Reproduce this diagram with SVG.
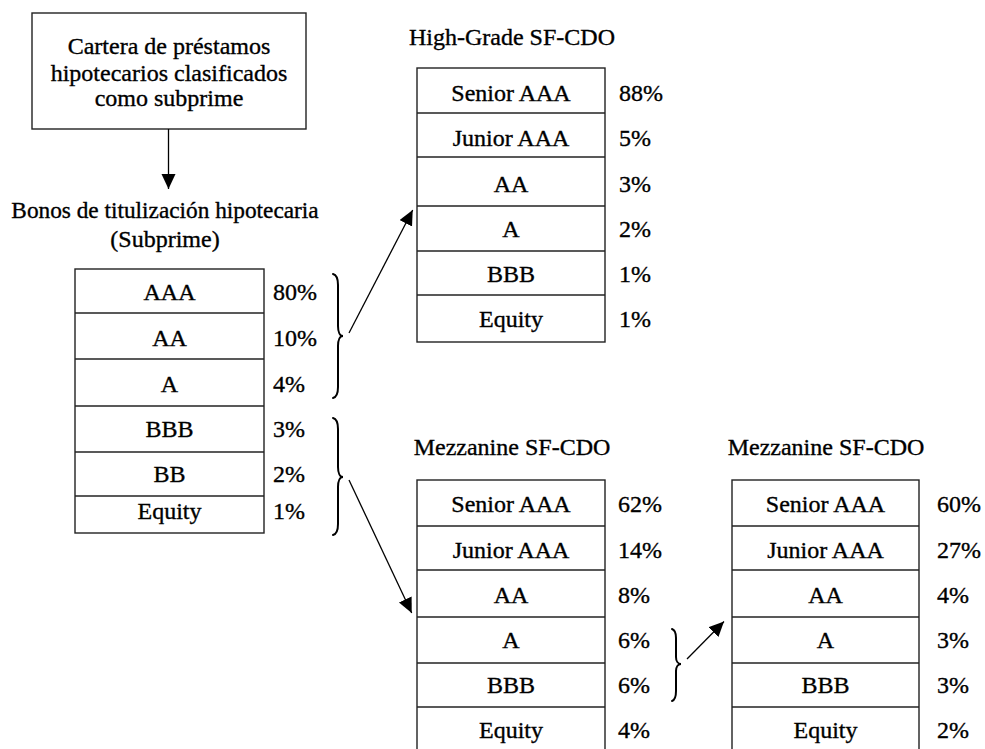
<svg xmlns="http://www.w3.org/2000/svg" width="985" height="749" viewBox="0 0 985 749">
  <style>
    text { font-family: "Liberation Serif", "Times New Roman", serif; font-size: 24px; fill: #000; stroke: #000; stroke-width: 0.35px; }
    .c { text-anchor: middle; }
    .box { fill: #fff; stroke: #222; stroke-width: 1.4; }
    .row { stroke: #222; stroke-width: 1.4; }
    .conn { stroke: #000; stroke-width: 1.3; fill: none; }
    .brace { stroke: #000; stroke-width: 2; fill: none; stroke-linecap: round; }
  </style>
  <defs>
    <marker id="head" markerUnits="userSpaceOnUse" markerWidth="16" markerHeight="16" refX="15" refY="7" orient="auto">
      <path d="M0,0 L15,7 L0,14 Z" fill="#000"/>
    </marker>
  </defs>

  <rect width="985" height="749" fill="#fff"/>

  <!-- source portfolio -->
  <g id="cartera">
    <rect class="box" x="32" y="13" width="274" height="116"/>
    <text class="c" x="169" y="54">Cartera de préstamos</text>
    <text class="c" x="169" y="81">hipotecarios clasificados</text>
    <text class="c" x="169" y="106">como subprime</text>
  </g>

  <!-- subprime mortgage-backed bonds -->
  <g id="bonos">
    <text class="c" x="165" y="218" style="font-size:23.3px">Bonos de titulización hipotecaria</text>
    <text class="c" x="165" y="247">(Subprime)</text>
    <rect class="box" x="75" y="269" width="189" height="264"/>
    <line class="row" x1="75" y1="313" x2="264" y2="313"/>
    <line class="row" x1="75" y1="359" x2="264" y2="359"/>
    <line class="row" x1="75" y1="406" x2="264" y2="406"/>
    <line class="row" x1="75" y1="452" x2="264" y2="452"/>
    <line class="row" x1="75" y1="496" x2="264" y2="496"/>
    <text class="c" x="169.5" y="300">AAA</text>
    <text class="c" x="169.5" y="346">AA</text>
    <text class="c" x="169.5" y="392">A</text>
    <text class="c" x="169.5" y="437">BBB</text>
    <text class="c" x="169.5" y="482">BB</text>
    <text class="c" x="169.5" y="519">Equity</text>
    <text x="273" y="300">80%</text>
    <text x="273" y="346">10%</text>
    <text x="273" y="392">4%</text>
    <text x="273" y="437">3%</text>
    <text x="273" y="482">2%</text>
    <text x="273" y="519">1%</text>
  </g>

  <!-- high-grade CDO -->
  <g id="high-grade">
    <text class="c" x="512" y="45">High-Grade SF-CDO</text>
    <rect class="box" x="417" y="68" width="188" height="274"/>
    <line class="row" x1="417" y1="113" x2="605" y2="113"/>
    <line class="row" x1="417" y1="157" x2="605" y2="157"/>
    <line class="row" x1="417" y1="206" x2="605" y2="206"/>
    <line class="row" x1="417" y1="251" x2="605" y2="251"/>
    <line class="row" x1="417" y1="295" x2="605" y2="295"/>
    <text class="c" x="511" y="101">Senior AAA</text>
    <text class="c" x="511" y="146">Junior AAA</text>
    <text class="c" x="511" y="192">AA</text>
    <text class="c" x="511" y="237">A</text>
    <text class="c" x="511" y="282">BBB</text>
    <text class="c" x="511" y="327">Equity</text>
    <text x="619" y="101">88%</text>
    <text x="619" y="146">5%</text>
    <text x="619" y="192">3%</text>
    <text x="619" y="237">2%</text>
    <text x="619" y="282">1%</text>
    <text x="619" y="327">1%</text>
  </g>

  <!-- mezzanine CDO -->
  <g id="mezzanine-1">
    <text class="c" x="512" y="455">Mezzanine SF-CDO</text>
    <rect class="box" x="417" y="480" width="188" height="290"/>
    <line class="row" x1="417" y1="526" x2="605" y2="526"/>
    <line class="row" x1="417" y1="570" x2="605" y2="570"/>
    <line class="row" x1="417" y1="617" x2="605" y2="617"/>
    <line class="row" x1="417" y1="663" x2="605" y2="663"/>
    <line class="row" x1="417" y1="707" x2="605" y2="707"/>
    <text class="c" x="511" y="512">Senior AAA</text>
    <text class="c" x="511" y="558">Junior AAA</text>
    <text class="c" x="511" y="603">AA</text>
    <text class="c" x="511" y="648">A</text>
    <text class="c" x="511" y="693">BBB</text>
    <text class="c" x="511" y="738">Equity</text>
    <text x="618" y="512">62%</text>
    <text x="618" y="558">14%</text>
    <text x="618" y="603">8%</text>
    <text x="618" y="648">6%</text>
    <text x="618" y="693">6%</text>
    <text x="618" y="738">4%</text>
  </g>

  <!-- CDO squared (mezzanine) -->
  <g id="mezzanine-2">
    <text class="c" x="826" y="455">Mezzanine SF-CDO</text>
    <rect class="box" x="732" y="480" width="187" height="290"/>
    <line class="row" x1="732" y1="526" x2="919" y2="526"/>
    <line class="row" x1="732" y1="570" x2="919" y2="570"/>
    <line class="row" x1="732" y1="617" x2="919" y2="617"/>
    <line class="row" x1="732" y1="663" x2="919" y2="663"/>
    <line class="row" x1="732" y1="707" x2="919" y2="707"/>
    <text class="c" x="825.5" y="512">Senior AAA</text>
    <text class="c" x="825.5" y="558">Junior AAA</text>
    <text class="c" x="825.5" y="603">AA</text>
    <text class="c" x="825.5" y="648">A</text>
    <text class="c" x="825.5" y="693">BBB</text>
    <text class="c" x="825.5" y="738">Equity</text>
    <text x="937" y="512">60%</text>
    <text x="937" y="558">27%</text>
    <text x="937" y="603">4%</text>
    <text x="937" y="648">3%</text>
    <text x="937" y="693">3%</text>
    <text x="937" y="738">2%</text>
  </g>

  <!-- braces grouping tranches, and arrows -->
  <g id="connectors">
    <path class="brace" d="M333,274 C337,275 338,279 338,285 L338,326 C338,332 340,336 343,336 C340,336 338,340 338,346 L338,387 C338,393 337,397 333,398"/>
    <path class="brace" d="M333,418 C337,419 338,423 338,429 L338,467 C338,473 340,477 343,477 C340,477 338,481 338,487 L338,524 C338,530 337,534 333,535"/>
    <path class="brace" d="M672,629 C675,630 676,633 676,638 L676,657 C676,661 678,664 681,664 C678,664 676,667 676,671 L676,691 C676,696 675,700 672,701"/>
    <line class="conn" x1="168.5" y1="129" x2="168.5" y2="189" marker-end="url(#head)"/>
    <line class="conn" x1="349" y1="333" x2="412.7" y2="210" marker-end="url(#head)"/>
    <line class="conn" x1="349" y1="480" x2="411.7" y2="613" marker-end="url(#head)"/>
    <line class="conn" x1="687" y1="659" x2="724" y2="621.5" marker-end="url(#head)"/>
  </g>
</svg>
